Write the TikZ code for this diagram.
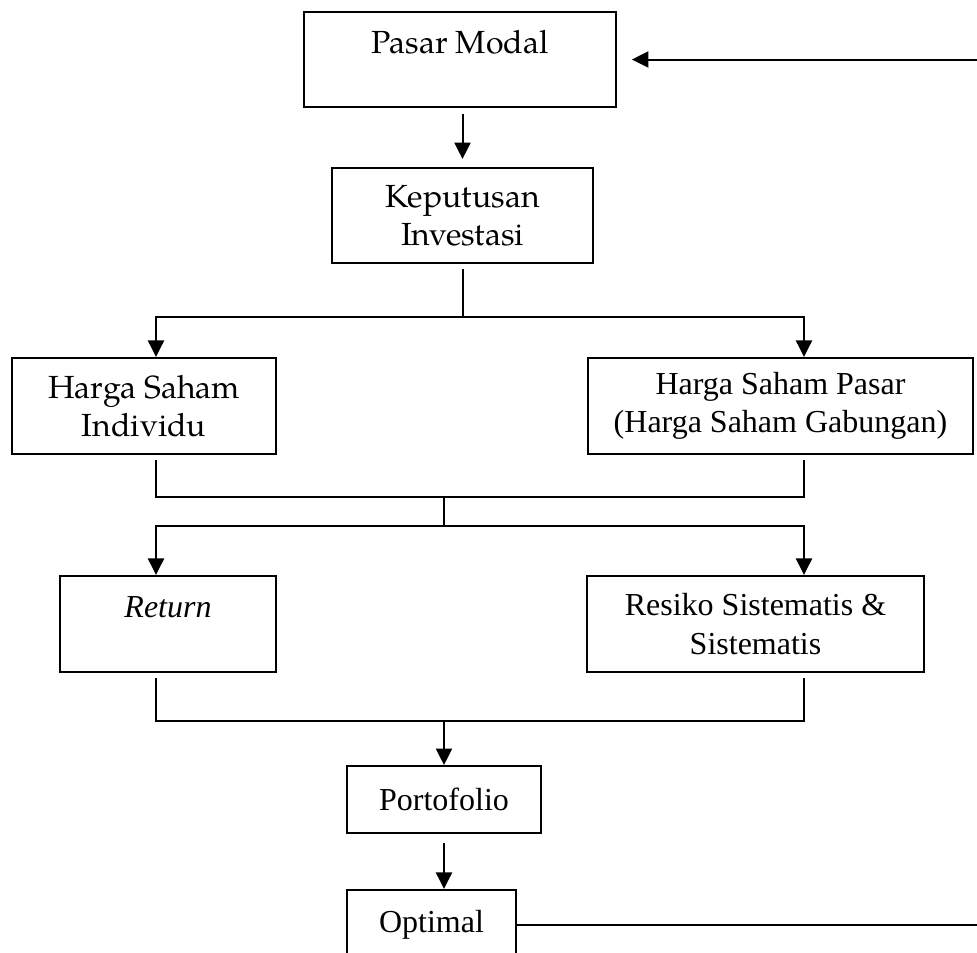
\documentclass[tikz,border=0pt]{standalone}
\usepackage{fontspec}
\setmainfont{Liberation Serif}
\newfontfamily\palfont{texgyrepagella-regular.otf}
\usetikzlibrary{arrows.meta}

\begin{document}
\begin{tikzpicture}[
    x=0.375pt, y=-0.375pt,
    box/.style={draw, line width=0.75pt, inner sep=0pt, align=center,
        font=\fontsize{12}{14.3}\selectfont},
    pal/.style={font=\fontsize{12}{14.3}\palfont},
    topline/.style={text height=8.8pt, text depth=13.4pt},
    wire/.style={line width=0.75pt},
    arr/.style={-{Triangle[length=6.2pt,width=6pt]}, line width=0.75pt},
]

\useasboundingbox (0,0) rectangle (977,952);
\clip (0,0) rectangle (977,952);

% Columns and junctions
\coordinate (colL) at (156,0);
\coordinate (colR) at (804,0);
\coordinate (split1) at (462.5,317);
\coordinate (join1) at (444,497);
\coordinate (split2) at (444,526);
\coordinate (join2) at (444,721);
\coordinate (loop) at (990,500);

% Boxes
\node[box, pal, topline, minimum width=117pt, minimum height=35.6pt]
    (pasar) at (460,59.5) {Pasar Modal};
\node[box, pal, minimum width=97.9pt, minimum height=35.6pt]
    (keputusan) at (462.5,215.5) {Keputusan\\Investasi};
\node[box, pal, minimum width=99pt, minimum height=36pt]
    (individu) at (144,406) {Harga Saham\\Individu};
\node[box, minimum width=144.4pt, minimum height=36pt]
    (gabungan) at (780.5,406) {Harga Saham Pasar\\(Harga Saham Gabungan)};
\node[box, topline, minimum width=81pt, minimum height=36pt]
    (return) at (168,624) {\textit{Return}};
\node[box, minimum width=126.4pt, minimum height=36pt]
    (resiko) at (755.5,624) {Resiko Sistematis \&\\Sistematis};
\node[box, minimum width=72.75pt, minimum height=25.1pt]
    (porto) at (444,799.5) {Portofolio};
\node[box, minimum width=63.4pt, minimum height=26.25pt]
    (optimal) at (431.5,925) {Optimal};

% Top part
\draw[arr, shorten <=2.25pt, shorten >=3pt] (keputusan.north |- pasar.south) -- (keputusan.north);
\draw[wire, shorten <=1.9pt] (keputusan.south) -- (split1);
\draw[arr] (split1) -| (colL |- individu.north);
\draw[arr] (split1) -| (colR |- gabungan.north);

% Middle part
\draw[wire, shorten <=1.9pt, shorten >=1.9pt]
    (colL |- individu.south) |- (join1) -| (colR |- gabungan.south);
\draw[wire] (join1) -- (split2);
\draw[arr] (split2) -| (colL |- return.north);
\draw[arr] (split2) -| (colR |- resiko.north);

% Bottom part
\draw[wire, shorten <=1.9pt, shorten >=1.9pt]
    (colL |- return.south) |- (join2) -| (colR |- resiko.south);
\draw[arr] (join2) -- (porto.north);
\draw[arr, shorten <=3.4pt] (porto.south) -- (porto.south |- optimal.north);

% Feedback
\draw[arr, shorten >=5.6pt] (optimal.east) -| (loop) |- (pasar.east);

\end{tikzpicture}
\end{document}
